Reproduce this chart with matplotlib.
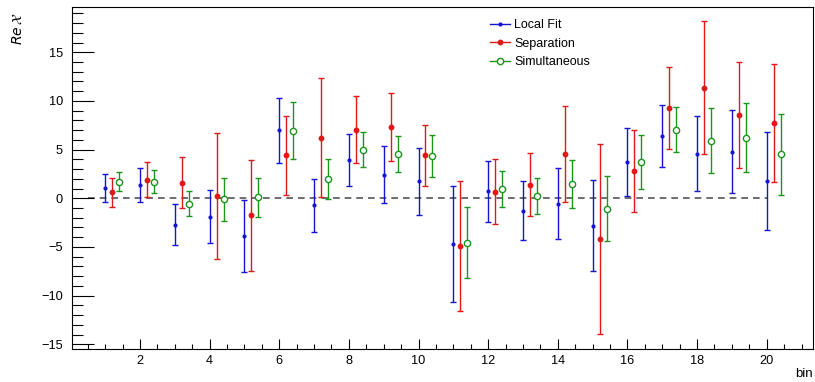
import matplotlib
matplotlib.use("Agg")
import matplotlib.pyplot as plt
import numpy as np
from matplotlib.ticker import MultipleLocator
from matplotlib.lines import Line2D

plt.rcParams['font.family'] = ['Liberation Sans', 'DejaVu Sans']

bins = list(range(1, 21))

local_fit = [1.05, 1.36, -2.70, -1.88, -3.88, 7.00, -0.74, 3.94, 2.43, 1.74,
             -4.70, 0.74, -1.26, -0.57, -2.81, 3.74, 6.40, 4.60, 4.78, 1.74]
local_fit_err = [1.47, 1.77, 2.07, 2.76, 3.74, 3.35, 2.70, 2.65, 2.95, 3.41,
                 5.98, 3.13, 3.03, 3.64, 4.69, 3.51, 3.22, 3.88, 4.28, 5.03]

separation = [0.60, 1.90, 1.60, 0.26, -1.74, 4.40, 6.22, 7.05, 7.32, 4.40,
              -4.91, 0.67, 1.40, 4.50, -4.22, 2.81, 9.26, 11.35, 8.53, 7.74]
separation_err = [1.48, 1.81, 2.63, 6.45, 5.69, 4.02, 6.13, 3.45, 3.47, 3.10,
                  6.64, 3.32, 3.24, 4.93, 9.75, 4.20, 4.24, 6.84, 5.45, 6.04]

simultaneous = [1.70, 1.70, -0.54, -0.09, 0.09, 6.95, 2.00, 5.00, 4.53, 4.32,
                -4.57, 0.98, 0.26, 1.47, -1.05, 3.70, 7.05, 5.93, 6.24, 4.50]
simultaneous_err = [0.97, 1.17, 1.32, 2.20, 2.03, 2.92, 2.05, 1.80, 1.85, 2.16,
                    3.63, 1.83, 1.84, 2.47, 3.31, 2.78, 2.30, 3.36, 3.52, 4.15]

series_labels = ["Local Fit", "Separation", "Simultaneous"]
x_label = "bin"
y_label = r"$Re\,\mathcal{X}$"

fig = plt.figure(figsize=(8.15, 3.82), dpi=100)
ax = fig.add_axes([0.088, 0.0856, 0.910, 0.8954])

x = np.array(bins, dtype=float)
blue = '#1414d2'
red = '#e01818'
green = '#1a961a'

ax.plot([0.5, 20], [0, 0], ls=(0, (4, 3)), color='#555555', lw=1.2, zorder=1)

ax.errorbar(x, local_fit, yerr=local_fit_err, fmt='o', color=blue, ms=2,
            mec=blue, mfc=blue, elinewidth=1.0, capsize=2.5, capthick=1.0, zorder=3)
ax.errorbar(x + 0.2, separation, yerr=separation_err, fmt='o', color=red, ms=3.2,
            mec=red, mfc=red, elinewidth=1.0, capsize=2.5, capthick=1.0, zorder=3)
ax.errorbar(x + 0.4, simultaneous, yerr=simultaneous_err, fmt='o', color=green, ms=4.5,
            mec=green, mfc='white', mew=1.0, elinewidth=1.0, capsize=2.5, capthick=1.0,
            zorder=3)

ax.set_xlim(0.04, 21.34)
ax.set_ylim(-15.51, 19.62)

ax.xaxis.set_major_locator(MultipleLocator(2))
ax.xaxis.set_minor_locator(MultipleLocator(0.5))
ax.yaxis.set_major_locator(MultipleLocator(5))
ax.yaxis.set_minor_locator(MultipleLocator(1))

ax.tick_params(axis='both', which='both', direction='in', top=False, right=False,
               labelsize=9.2, width=0.8)
ax.tick_params(axis='y', which='major', length=15.5, pad=6.2)
ax.tick_params(axis='y', which='minor', length=8)
ax.tick_params(axis='x', which='major', length=7.5, pad=4)
ax.tick_params(axis='x', which='minor', length=3.8)

for s in ax.spines.values():
    s.set_linewidth(0.8)

fig.text(0.997, 0.004, x_label, ha='right', va='bottom', fontsize=9.5)
fig.text(0.022, 0.925, y_label, rotation=90, ha='center', va='center', fontsize=10)

handles = [
    Line2D([], [], color=blue, lw=1.0, marker='o', ms=2, mfc=blue, mec=blue),
    Line2D([], [], color=red, lw=1.0, marker='o', ms=3.2, mfc=red, mec=red),
    Line2D([], [], color=green, lw=1.0, marker='o', ms=4.5, mfc='white', mec=green),
]
ax.legend(handles, series_labels, loc='upper left', bbox_to_anchor=(0.552, 0.99),
          frameon=False, fontsize=9, handlelength=1.6, handletextpad=0.35,
          labelspacing=0.5, borderpad=0.2)

fig.savefig("out.png", dpi=100)
